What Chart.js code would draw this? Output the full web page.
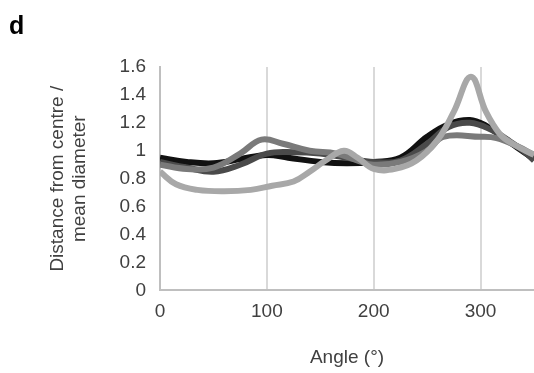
<!DOCTYPE html>
<html>
<head>
<meta charset="utf-8">
<script src="https://cdn.jsdelivr.net/npm/chart.js@4/dist/chart.umd.min.js"></script>
<style>
  html, body { margin: 0; padding: 0; background: #fff; }
  #wrap { width: 534px; height: 373px; }
</style>
</head>
<body>
<div id="wrap"><canvas id="chart"></canvas></div>
<script>
// values (angle in degrees, distance / mean diameter)
const lightAngles = [0, 15, 35, 60, 85, 105, 125, 140, 155, 172, 185, 200, 220, 240, 260, 275, 291, 305, 318, 330, 350];
const lightValues = [0.85, 0.76, 0.72, 0.71, 0.72, 0.75, 0.78, 0.85, 0.93, 1.0, 0.95, 0.87, 0.87, 0.93, 1.08, 1.28, 1.53, 1.28, 1.12, 1.05, 0.97];

const grayAngles = [0, 25, 50, 75, 95, 115, 140, 165, 185, 200, 225, 250, 265, 300, 315, 335, 350];
const grayValues = [0.9, 0.87, 0.88, 0.98, 1.08, 1.05, 1.0, 0.98, 0.93, 0.9, 0.92, 1.0, 1.1, 1.1, 1.09, 1.03, 0.97];

const darkAngles = [0, 25, 50, 75, 100, 125, 150, 175, 200, 225, 250, 270, 290, 310, 325, 340, 350];
const darkValues = [0.92, 0.88, 0.85, 0.9, 0.98, 0.99, 0.98, 0.95, 0.92, 0.93, 1.05, 1.17, 1.2, 1.15, 1.08, 1.0, 0.93];

const blackAngles = [0, 25, 50, 75, 100, 120, 150, 175, 200, 225, 250, 270, 290, 305, 320, 335, 350];
const blackValues = [0.95, 0.92, 0.91, 0.94, 0.97, 0.95, 0.92, 0.91, 0.92, 0.95, 1.1, 1.19, 1.22, 1.18, 1.1, 1.02, 0.94];

const xTicks = [0, 100, 200, 300];
const yTicks = [0, 0.2, 0.4, 0.6, 0.8, 1, 1.2, 1.4, 1.6];

function toPoints(xs, ys) {
    return xs.map((x, i) => ({ x: x, y: ys[i] }));
}

function series(label, xs, ys, color) {
    return {
        label: label,
        data: toPoints(xs, ys),
        borderColor: color,
        backgroundColor: color,
        borderWidth: 6,
        pointRadius: 0,
        tension: 0.4,
        fill: false
    };
}

const textColor = '#404040';
const fontFamily = '"Liberation Sans", Arial, sans-serif';
const font = { family: fontFamily, size: 19 };

// panel letter in the top-left corner
const panelLetter = {
    id: 'panelLetter',
    afterDraw(chart) {
        const ctx = chart.ctx;
        ctx.save();
        ctx.fillStyle = '#000';
        ctx.font = 'bold 25px ' + fontFamily;
        ctx.textBaseline = 'alphabetic';
        ctx.fillText('d', 9, 34);
        ctx.restore();
    }
};

new Chart(document.getElementById('chart'), {
    type: 'line',
    data: {
        datasets: [
            series('4', lightAngles, lightValues, '#a8a8a8'),
            series('3', grayAngles, grayValues, '#7a7a7a'),
            series('2', darkAngles, darkValues, '#4a4a4a'),
            series('1', blackAngles, blackValues, '#111111')
        ]
    },
    plugins: [panelLetter],
    options: {
        responsive: true,
        maintainAspectRatio: false,
        animation: false,
        layout: { padding: { left: 42, right: 0, top: 67, bottom: 4 } },
        plugins: {
            legend: { display: false },
            tooltip: { enabled: false },
            title: { display: false }
        },
        scales: {
            x: {
                type: 'linear',
                min: 0,
                max: 350,
                afterBuildTicks: (scale) => { scale.ticks = xTicks.map(v => ({ value: v })); },
                grid: { color: '#d9d9d9', lineWidth: 2, drawTicks: false },
                border: { display: true, color: '#bfbfbf', width: 2 },
                ticks: { color: textColor, font: font, padding: 10, maxRotation: 0 },
                title: {
                    display: true,
                    text: 'Angle (°)',
                    color: textColor,
                    font: font,
                    padding: { top: 13, bottom: 0 }
                }
            },
            y: {
                min: 0,
                max: 1.6,
                afterBuildTicks: (scale) => { scale.ticks = yTicks.map(v => ({ value: v })); },
                grid: { display: false, drawTicks: false },
                border: { display: true, color: '#bfbfbf', width: 2 },
                ticks: {
                    color: textColor,
                    font: font,
                    padding: 14,
                    callback: (v) => String(+Number(v).toFixed(1))
                },
                title: {
                    display: true,
                    text: ['Distance from centre /', 'mean diameter'],
                    color: textColor,
                    font: font,
                    padding: { top: 4, bottom: 14 }
                }
            }
        }
    }
});
</script>
</body>
</html>
